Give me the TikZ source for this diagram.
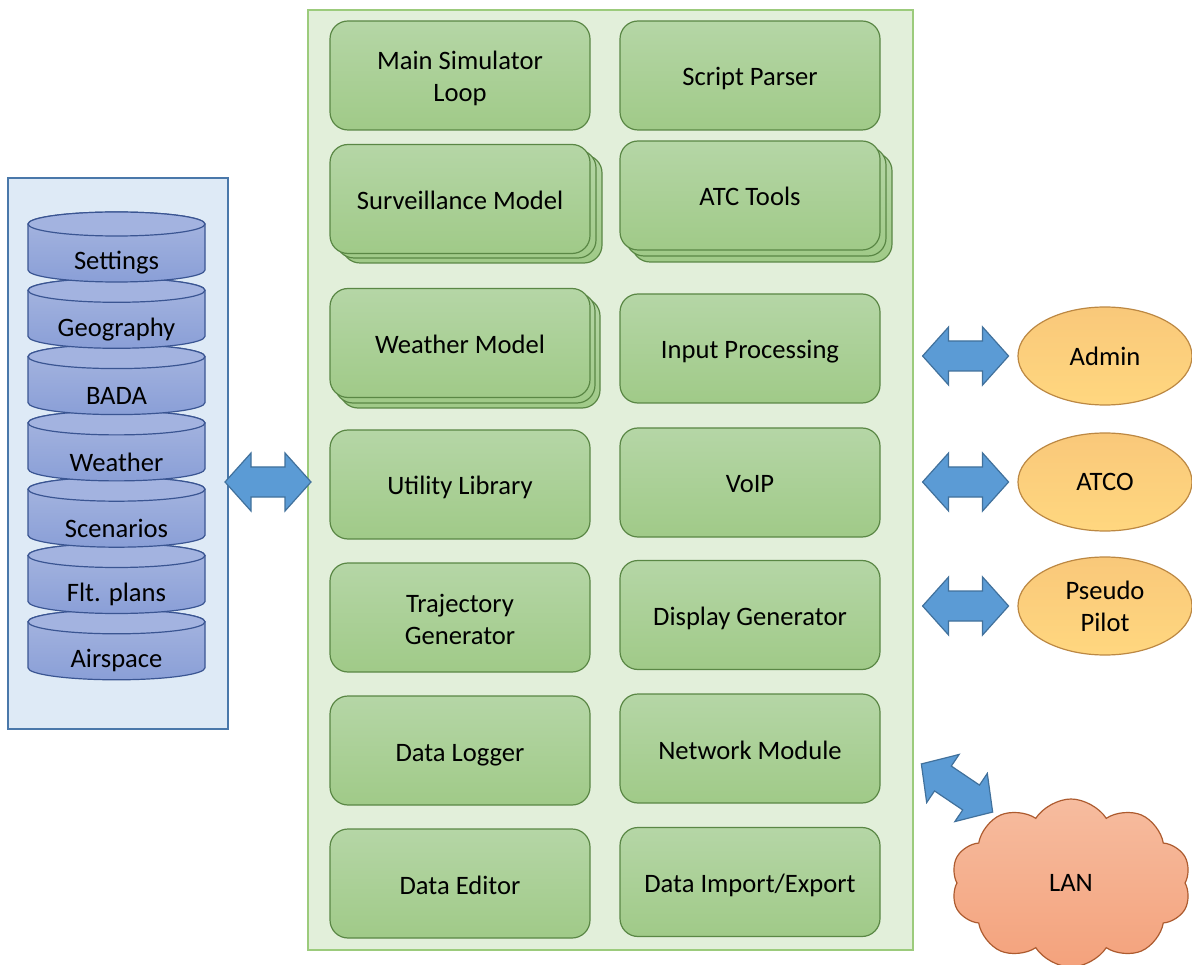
\documentclass[tikz,border=0pt]{standalone}
\usepackage{fontspec}
\setmainfont{Carlito}
\usetikzlibrary{shapes.geometric,shapes.symbols,calc}
\definecolor{gpanelfill}{HTML}{E2EFDA}
\definecolor{gpanelline}{HTML}{9CCB7C}
\definecolor{gtop}{HTML}{B5D6A6}
\definecolor{gbot}{HTML}{A0CA88}
\definecolor{gline}{HTML}{5A8745}
\definecolor{bpanelfill}{HTML}{DEEAF6}
\definecolor{bpanelline}{HTML}{4A78AA}
\definecolor{ctop}{HTML}{A7B6E0}
\definecolor{cbot}{HTML}{8A9FD7}
\definecolor{cline}{HTML}{3A5592}
\definecolor{cface}{HTML}{A3B3E0}
\definecolor{afill}{HTML}{5B9BD5}
\definecolor{aline}{HTML}{41719C}
\definecolor{etop}{HTML}{F9C87A}
\definecolor{ebot}{HTML}{FFD77F}
\definecolor{eline}{HTML}{BC8843}
\definecolor{ltop}{HTML}{F6BC9F}
\definecolor{lbot}{HTML}{F4A27C}
\definecolor{lline}{HTML}{AD5B2F}
\begin{document}
\begin{tikzpicture}[x=1pt,y=1pt,
  txt/.style={font=\fontsize{26.6}{32}\selectfont, align=center, text=black},
  gshape/.style={draw=gline, line width=1.2pt, rounded corners=18pt, top color=gtop, bottom color=gbot},
  gbox/.style={gshape, txt, minimum width=260pt, minimum height=109pt, inner sep=0pt, text height=24pt, text depth=3pt},
  twoline/.style={text height=56pt},
  barrow/.style={fill=afill, draw=aline, line width=1.2pt, line join=miter},
  person/.style={ellipse, draw=eline, line width=1.2pt, top color=etop, bottom color=ebot, txt, minimum width=174pt, minimum height=98pt, inner sep=0pt},
  cylshape/.style={draw=cline, line width=1.2pt, top color=ctop, bottom color=cbot},
]
\newcommand\dblarrow[2]{%
  \draw[barrow, shift={(#1)}, rotate=#2] (-43,0) -- (-17,29) -- (-17,15) -- (17,15) -- (17,29) -- (43,0) -- (17,-29) -- (17,-15) -- (-17,-15) -- (-17,-29) -- cycle;}
\useasboundingbox (0,0) rectangle (1192,-965);
\fill[white] (0,0) rectangle (1192,-965);

% database panel
\node[draw=bpanelline, fill=bpanelfill, line width=1.5pt, minimum width=220pt, minimum height=551pt, inner sep=0pt] (dbpanel) at (118,-453.5) {};
\foreach \name [count=\i from 0] in {Airspace,Flt. plans,Scenarios,Weather,BADA,Geography,Settings}{
  \pgfmathsetmacro\yt{-(261+66.3*(6-\i))}
  \pgfmathsetmacro\ytop{\yt+37}
  \pgfmathsetmacro\ybot{\yt-9}
  \draw[cylshape] (28,\ytop) -- (28,\ybot) arc[start angle=180, end angle=360, x radius=88.5, y radius=12] -- (205,\ytop) arc[start angle=0, end angle=180, x radius=88.5, y radius=12] -- cycle;
  \draw[draw=cline, line width=1.2pt, fill=cface] (116.5,\ytop) ellipse[x radius=88.5, y radius=12];
  \node[txt] (cyl\i) at (116.5,\yt-2) {\name};
}

% simulator panel
\node[draw=gpanelline, fill=gpanelfill, line width=1.5pt, minimum width=605pt, minimum height=940pt, inner sep=0pt] (simpanel) at (610.5,-480) {};

% row 1
\node[gbox, twoline] (msl) at (460,-75.5) {Main Simulator\\Loop};
\node[gbox] (sp) at (750,-75.5) {Script Parser};
% stacked boxes
\draw[gshape] (342,-155) rectangle (602,-263);
\draw[gshape] (336,-150) rectangle (596,-258);
\node[gbox] (sm) at (460,-199) {Surveillance Model};
\draw[gshape] (632,-153) rectangle (892,-262);
\draw[gshape] (626,-147) rectangle (886,-256);
\node[gbox] (atc) at (750,-195.5) {ATC Tools};
\draw[gshape] (340,-298) rectangle (600,-408);
\draw[gshape] (335,-293) rectangle (595,-403);
\node[gbox] (wm) at (460,-343) {Weather Model};
\node[gbox] (ip) at (750,-348.5) {Input Processing};
\node[gbox] (ul) at (460,-484.5) {Utility Library};
\node[gbox] (voip) at (750,-482.5) {VoIP};
\node[gbox, twoline] (tg) at (460,-617.5) {Trajectory\\Generator};
\node[gbox] (dg) at (750,-615) {Display Generator};
\node[gbox] (dl) at (460,-750.5) {Data Logger};
\node[gbox] (nm) at (750,-748.5) {Network Module};
\node[gbox] (de) at (460,-883.5) {Data Editor};
\node[gbox] (die) at (750,-882) {Data Import/Export};

% actors
\node[person] (admin) at (1105,-356) {Admin};
\node[person] (atco) at (1105,-482) {ATCO};
\node[person] (pilot) at (1105,-606) {Pseudo\\Pilot};
\node[cloud, cloud puffs=10, cloud puff arc=115, aspect=1.45, draw=lline, line width=1.2pt, top color=ltop, bottom color=lbot, txt, minimum width=240pt, minimum height=168pt, inner sep=0pt] (lan) at (1071,-883) {LAN};

% block arrows
\coordinate (a0) at ($(dbpanel.east |- 0,-482)!0.5!(simpanel.west |- 0,-482)$);
\coordinate (a1) at ($(simpanel.east |- admin)!0.5!(admin.west)$);
\coordinate (a2) at ($(simpanel.east |- atco)!0.5!(atco.west)$);
\coordinate (a3) at ($(simpanel.east |- pilot)!0.5!(pilot.west)$);
\coordinate (a4) at (957,-788);
\dblarrow{a0}{0}
\dblarrow{a1}{0}
\dblarrow{a2}{0}
\dblarrow{a3}{0}
\dblarrow{a4}{-34}
\end{tikzpicture}
\end{document}
